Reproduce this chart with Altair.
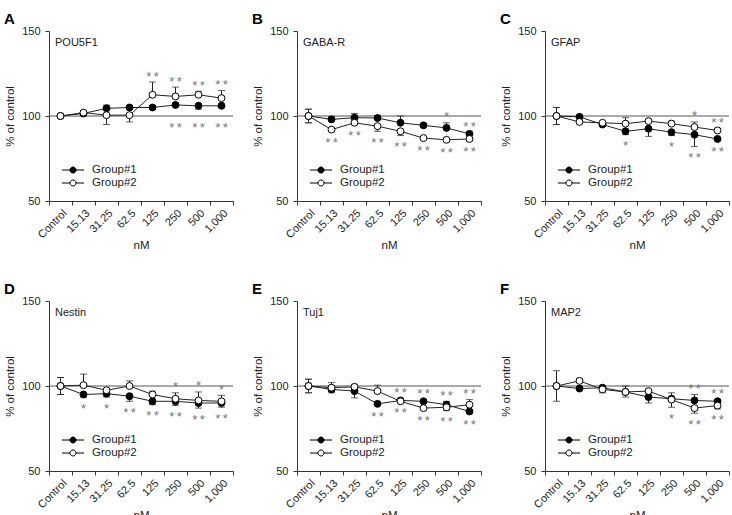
import altair as alt
import pandas as pd

# Dose levels (nM) and the two groups
categories = ["Control", "15.13", "31.25", "62.5", "125", "250", "500", "1,000"]
groups = ["Group#1", "Group#2"]
panel_letters = ["A", "B", "C", "D", "E", "F"]
markers = ["POU5F1", "GABA-R", "GFAP", "Nestin", "Tuj1", "MAP2"]

# Mean expression (% of control) and one-sided error extents (up / down)
pou5f1_g1 = [100, 101.5, 104.5, 105, 105, 106.5, 106, 106]
pou5f1_g1_up = [1, 1, 2, 1, 0, 1, 0, 0]
pou5f1_g1_dn = [1, 1, 0, 0, 1, 0, 2, 1]
pou5f1_g2 = [100, 102, 100.5, 100.5, 112.5, 111.5, 112.5, 110.5]
pou5f1_g2_up = [1, 1, 0, 0, 7.5, 5.5, 2, 4.5]
pou5f1_g2_dn = [1, 1, 5.5, 4, 0, 0, 0, 0]

gabar_g1 = [100, 98, 99, 98.8, 96, 94.5, 93, 89.5]
gabar_g1_up = [4, 1.5, 2.5, 1.5, 4, 1, 3, 1]
gabar_g1_dn = [4, 0, 0, 0, 0, 0, 0, 0]
gabar_g2 = [100, 92, 96, 94, 91, 87, 86, 86.5]
gabar_g2_up = [4, 0, 0, 0, 0, 0, 0, 0]
gabar_g2_dn = [4, 1, 1, 3, 2.5, 1, 1, 1]

gfap_g1 = [100, 99.5, 95, 91, 92.5, 90.5, 89, 86.5]
gfap_g1_up = [5, 1, 0, 0, 0, 0, 0, 0]
gfap_g1_dn = [5, 0, 1, 2, 4.5, 2, 7, 1]
gfap_g2 = [100, 96.5, 96, 95.5, 97, 95.5, 93.5, 91.5]
gfap_g2_up = [5, 0, 0, 3.5, 1, 1.5, 3, 1]
gfap_g2_dn = [5, 0, 0, 0, 0, 0, 0, 0]

nestin_g1 = [100, 95, 95.5, 94, 91, 91, 90, 90]
nestin_g1_up = [5, 0, 0, 0, 0, 0, 0, 0]
nestin_g1_dn = [5, 1.5, 2, 3, 2, 2.5, 3, 2.5]
nestin_g2 = [100, 100.5, 97.5, 100, 95, 92.5, 91.5, 91]
nestin_g2_up = [5, 6.5, 1, 3, 2, 3.5, 5, 3.5]
nestin_g2_dn = [5, 0, 0, 0, 0, 0, 0, 0]

tuj1_g1 = [100, 98, 97, 89.5, 91.5, 91, 89, 85]
tuj1_g1_up = [4, 0, 0, 0, 1, 1, 2, 0]
tuj1_g1_dn = [4, 2, 4, 1, 0, 0, 0, 1]
tuj1_g2 = [100, 99, 99.5, 97, 91, 87, 87.5, 89]
tuj1_g2_up = [4, 3, 1.5, 3.5, 1, 0, 0, 3]
tuj1_g2_dn = [4, 0, 0, 0, 0, 1, 2, 0]

map2_g1 = [100, 98.5, 99, 96.5, 93.5, 92.5, 91.5, 91]
map2_g1_up = [1, 0, 0, 0, 0, 3.5, 3.5, 1]
map2_g1_dn = [1, 1, 3, 3, 3.5, 0, 0, 0]
map2_g2 = [100, 103, 98, 96.5, 97, 92, 87, 88.5]
map2_g2_up = [9, 1.5, 1, 3.5, 1, 0, 0, 0]
map2_g2_dn = [9, 0, 0, 0, 0, 4.5, 3, 2]

# Significance marks drawn above / below each dose
pou5f1_sig_above = ["", "", "", "", "**", "**", "**", "**"]
pou5f1_sig_below = ["", "", "", "", "", "**", "**", "**"]
gabar_sig_above = ["", "", "", "", "", "", "*", "**"]
gabar_sig_below = ["", "**", "**", "**", "**", "**", "**", "**"]
gfap_sig_above = ["", "", "", "", "", "", "*", "**"]
gfap_sig_below = ["", "", "", "*", "", "*", "**", "**"]
nestin_sig_above = ["", "", "", "", "", "*", "*", "*"]
nestin_sig_below = ["", "*", "*", "**", "**", "**", "**", "**"]
tuj1_sig_above = ["", "", "", "", "**", "**", "**", "**"]
tuj1_sig_below = ["", "", "", "**", "**", "**", "**", "**"]
map2_sig_above = ["", "", "", "", "", "", "**", "**"]
map2_sig_below = ["", "", "", "", "", "*", "**", "**"]

panels = [
    (pou5f1_g1, pou5f1_g1_up, pou5f1_g1_dn, pou5f1_g2, pou5f1_g2_up, pou5f1_g2_dn, pou5f1_sig_above, pou5f1_sig_below),
    (gabar_g1, gabar_g1_up, gabar_g1_dn, gabar_g2, gabar_g2_up, gabar_g2_dn, gabar_sig_above, gabar_sig_below),
    (gfap_g1, gfap_g1_up, gfap_g1_dn, gfap_g2, gfap_g2_up, gfap_g2_dn, gfap_sig_above, gfap_sig_below),
    (nestin_g1, nestin_g1_up, nestin_g1_dn, nestin_g2, nestin_g2_up, nestin_g2_dn, nestin_sig_above, nestin_sig_below),
    (tuj1_g1, tuj1_g1_up, tuj1_g1_dn, tuj1_g2, tuj1_g2_up, tuj1_g2_dn, tuj1_sig_above, tuj1_sig_below),
    (map2_g1, map2_g1_up, map2_g1_dn, map2_g2, map2_g2_up, map2_g2_dn, map2_sig_above, map2_sig_below),
]

FONT = "Liberation Sans"
INK = "#222222"
AXIS_INK = "#333333"
SIG_GAP = 5  # distance (in % units) between an error bar end and its asterisks

# Legend glyph: a short line with a circle in its middle (unit path scaled by sqrt(size)/2)
LEGEND_GLYPH = "M-2,0H-0.55M0.55,0H2M0.55,0A0.55,0.55,0,1,1,-0.55,0A0.55,0.55,0,1,1,0.55,0Z"

x_enc = alt.X(
    "dose:N",
    sort=categories,
    scale=alt.Scale(type="band", domain=categories, paddingInner=0, paddingOuter=0),
    axis=alt.Axis(title="nM", labelAngle=-45, tickBand="extent", titlePadding=0, labelPadding=2),
)


def y_enc(field):
    return alt.Y(
        field,
        type="quantitative",
        scale=alt.Scale(domain=[50, 150], nice=False, zero=False),
        axis=alt.Axis(title="% of control", values=[50, 100, 150], labelPadding=5, titlePadding=6),
    )


def build_panel(idx):
    g1, g1u, g1d, g2, g2u, g2d, sig_up, sig_dn = panels[idx]
    rows = []
    for grp, m, up, dn in [(groups[0], g1, g1u, g1d), (groups[1], g2, g2u, g2d)]:
        for c, v, u, d in zip(categories, m, up, dn):
            rows.append({"dose": c, "group": grp, "value": v, "hi": v + u, "lo": v - d,
                         "has_hi": u > 0, "has_lo": d > 0})
    df = pd.DataFrame(rows)

    caps = pd.concat([
        df[df.has_hi].assign(cap=df.hi),
        df[df.has_lo].assign(cap=df.lo),
    ])

    sig_rows = []
    for i, c in enumerate(categories):
        top = max(g1[i] + g1u[i], g2[i] + g2u[i])
        bottom = min(g1[i] - g1d[i], g2[i] - g2d[i], 100)
        if sig_up[i]:
            sig_rows.append({"dose": c, "y": top + SIG_GAP, "label": sig_up[i].replace("**", "*\u2009*")})
        if sig_dn[i]:
            sig_rows.append({"dose": c, "y": bottom - SIG_GAP, "label": sig_dn[i].replace("**", "*\u2009*")})
    sig = pd.DataFrame(sig_rows)

    base = alt.Chart(df)

    ref = alt.Chart(pd.DataFrame({"v": [100]})).mark_rule(color="#555555", strokeWidth=1).encode(
        y=y_enc("v")
    )
    lines = base.mark_line(color=INK, strokeWidth=1).encode(
        x=x_enc, y=y_enc("value"), detail="group:N"
    )
    err = base.mark_rule(color=INK, strokeWidth=1).encode(
        x=x_enc, y=y_enc("lo"), y2="hi:Q"
    )
    cap = alt.Chart(caps).mark_tick(color=INK, size=7, thickness=1).encode(
        x=x_enc, y=y_enc("cap")
    )
    pts = base.mark_point(shape="circle", filled=True, size=48, stroke="black",
                          strokeWidth=1, opacity=1).encode(
        x=x_enc,
        y=y_enc("value"),
        fill=alt.Fill(
            "group:N",
            scale=alt.Scale(domain=groups, range=["black", "white"]),
            legend=alt.Legend(
                title=None,
                orient="none",
                legendX=18,
                legendY=133,
                symbolType=LEGEND_GLYPH,
                symbolSize=121,
                symbolStrokeColor="black",
                symbolStrokeWidth=1,
                labelFont=FONT,
                labelFontSize=11.5,
                labelColor=INK,
                labelOffset=13,
                rowPadding=1,
            ),
        ),
    )
    stars = alt.Chart(sig).mark_text(font=FONT, fontSize=13, color="#777777", baseline="middle", dy=3).encode(
        x=x_enc, y=y_enc("y"), text="label:N"
    )
    letter = alt.Chart(pd.DataFrame({"t": [panel_letters[idx]]})).mark_text(
        font=FONT, fontSize=15, fontWeight="bold", color="black", align="left", baseline="middle"
    ).encode(x=alt.value(-45), y=alt.value(-12), text="t:N")
    name = alt.Chart(pd.DataFrame({"t": [markers[idx]]})).mark_text(
        font=FONT, fontSize=11, color=INK, align="left", baseline="middle"
    ).encode(x=alt.value(6), y=alt.value(12), text="t:N")

    return alt.layer(ref, lines, err, cap, pts, stars, name, letter).properties(width=184, height=170)


def build_row(indices):
    return (
        alt.hconcat(*[build_panel(i) for i in indices], spacing=18)
        .resolve_scale(fill="independent")
        .resolve_legend(fill="independent")
    )


chart = (
    alt.vconcat(build_row(range(3)), build_row(range(3, 6)), spacing=30)
    .resolve_scale(fill="independent")
    .resolve_legend(fill="independent")
    .properties(padding={"left": 4, "top": 12, "right": 0, "bottom": 0})
    .configure(font=FONT)
    .configure_view(stroke=None)
    .configure_axis(
        grid=False,
        domainColor=AXIS_INK,
        tickColor=AXIS_INK,
        tickSize=4,
        labelFont=FONT,
        labelFontSize=11,
        labelColor=INK,
        titleFont=FONT,
        titleFontSize=11.5,
        titleFontWeight="normal",
        titleColor=INK,
    )
)

chart.save("out.html", embed_options={"renderer": "svg", "actions": False})
